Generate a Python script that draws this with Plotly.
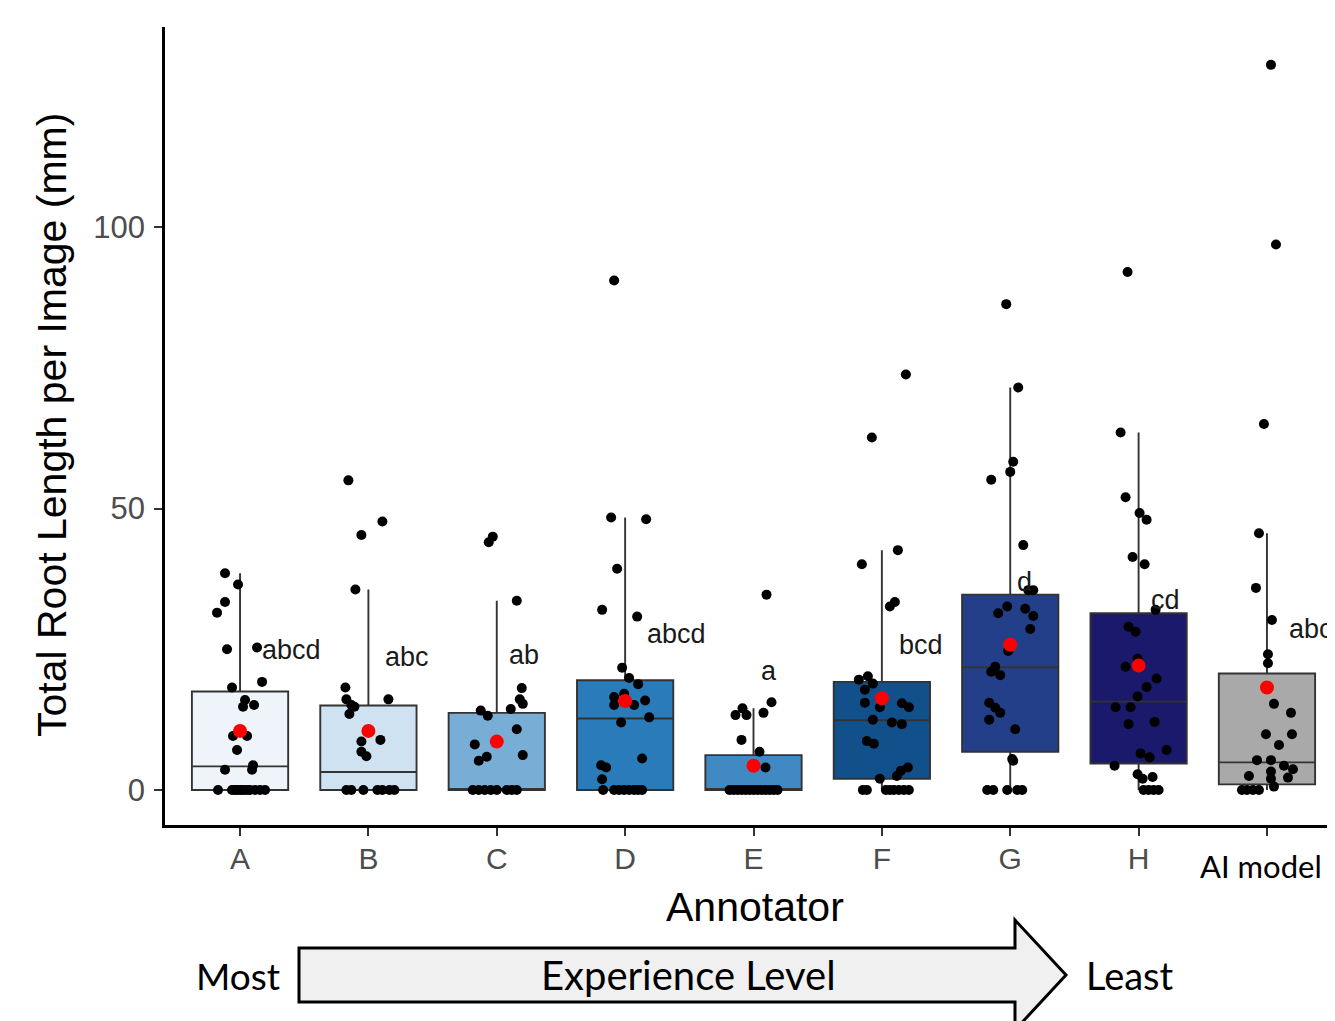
import plotly.graph_objects as go

# ---------------- data ----------------
categories = ["A", "B", "C", "D", "E", "F", "G", "H", "AI model"]
tick_labels = ["A", "B", "C", "D", "E", "F", "G", "H", ""]

vals_A = [38.5, 36.5, 33.4, 31.5, 25.0, 25.3, 19.2, 18.2, 16.0, 14.8, 15.1, 9.6, 9.6, 7.1, 4.4, 3.6, 3.6,
          0, 0, 0, 0, 0, 0, 0, 0, 0, 0, 0, 0]
jit_A = [-15, -2, -15, -23, -13, 17, 22, -8, 5, 3, 14, -7, 7, -3, 13, -15, 12,
         -22, -8, -3, 2, 8, 15, 20, 25, -5, 0, 5, 10]

vals_B = [55.0, 45.3, 47.7, 35.6, 18.2, 16.1, 16.1, 15.1, 14.8, 13.5, 8.6, 8.9, 6.8, 6.0,
          0, 0, 0, 0, 0, 0, 0]
jit_B = [-20, -7, 14, -13, -23, 20, -22, -17, -14, -19, -7, 12, -7, -2,
         -22, -17, -5, 9, 14, 21, 26]

vals_C = [45.0, 44.0, 33.6, 18.1, 16.1, 15.3, 14.1, 13.2, 14.4, 10.8, 8.1, 6.2, 5.9, 5.2,
          0, 0, 0, 0, 0, 0, 0, 0]
jit_C = [-4, -8, 20, 25, 23, 26, -16, -9, 14, 20, -22, 26, -10, -18,
         -24, -18, -12, -6, 0, 10, 15, 20]

vals_D = [90.5, 48.4, 48.1, 39.3, 32.0, 30.8, 21.7, 19.9, 18.8, 16.5, 15.1, 17.1, 15.1, 15.9, 12.0, 12.9,
          5.6, 4.4, 4.0, 1.9, 0, 0, 0, 0, 0, 0, 0, 0]
jit_D = [-11, -14, 21, -8, -23, 12, -3, 4, 13, -11, -11, -1, 9, 20, -4, 24,
         17, -24, -19, -23, -22, -11, -6, -1, 4, 9, 13, 17]

vals_E = [34.7, 15.6, 14.5, 13.3, 13.3, 13.7, 8.9, 6.8, 4.0,
          0, 0, 0, 0, 0, 0, 0, 0, 0, 0, 0, 0, 0]
jit_E = [13, 18, -11, -18, -7, 10, -12, 6, 12,
         -24, -20, -16, -12, -8, -4, 0, 4, 8, 12, 16, 20, 24]

vals_F = [73.8, 62.6, 42.6, 40.1, 33.4, 32.6, 19.6, 20.2, 18.9, 17.8, 14.7, 15.5, 15.4, 14.7, 12.5, 12.0,
          11.7, 8.7, 8.2, 4.0, 3.4, 2.0, 2.5, 0, 0, 0, 0, 0, 0, 0, 0]
jit_F = [24, -10, 16, -20, 13, 8, -23, -14, -9, -17, -2, -17, 20, 27, -9, 10,
         20, -15, -8, 26, 19, -2, 15, -19, -15, 4, 8, 12, 17, 22, 27]

vals_G = [86.3, 71.5, 58.3, 56.5, 55.1, 43.5, 35.5, 35.5, 32.6, 31.4, 32.2, 30.9, 28.6, 24.7, 21.9, 21.0,
          20.4, 15.5, 14.6, 13.7, 12.5, 10.8, 5.5, 5.2, 0, 0, 0, 0, 0]
jit_G = [-4, 8, 3, 0, -19, 13, 18, 23, -3, -12, 15, 23, 20, -2, -15, -19,
         -10, -21, -15, -10, -21, 5, 2, 3, -23, -17, -3, 7, 12]

vals_H = [92.0, 63.5, 52.0, 49.2, 48.0, 41.4, 40.1, 32.0, 29.0, 28.1, 21.9, 23.3, 19.8, 18.3, 16.6, 14.7,
          14.7, 12.1, 11.7, 7.1, 6.5, 5.8, 4.3, 2.8, 2.0, 2.3, 0, 0, 0, 0]
jit_H = [-11, -18, -13, 1, 8, -6, 6, 17, -10, -3, -13, -1, 18, 8, -1, -23,
         -8, 16, -10, 28, 2, 11, -24, -1, 4, 14, 5, 10, 15, 20]

vals_AI = [128.8, 96.9, 65.0, 45.6, 35.9, 30.2, 24.1, 22.5, 15.3, 13.7, 9.9, 9.9, 8.0, 5.3, 5.3, 4.3,
           3.7, 2.5, 3.3, 2.0, 2.2, 0.6, 0, 0, 0, 0]
jit_AI = [4, 9, -3, -8, -11, 5, 1, 1, 7, 24, -1, 25, 12, -10, 4, 17,
          26, -18, 4, 4, 21, 7, -25, -20, -14, -8]

all_vals = [vals_A, vals_B, vals_C, vals_D, vals_E, vals_F, vals_G, vals_H, vals_AI]
all_jit = [jit_A, jit_B, jit_C, jit_D, jit_E, jit_F, jit_G, jit_H, jit_AI]

# box statistics
q1 = [0, 0, 0, 0, 0, 2.0, 6.8, 4.7, 1.0]
medians = [4.2, 3.2, 0, 12.7, 0, 12.4, 21.8, 15.7, 4.9]
q3 = [17.5, 15.0, 13.7, 19.5, 6.2, 19.2, 34.7, 31.4, 20.7]
lower_whisker = [0, 0, 0, 0, 0, 0, 0, 0, 0]
upper_whisker = [38.5, 35.6, 33.6, 48.4, 14.5, 42.6, 71.5, 63.5, 45.6]
means = [10.5, 10.5, 8.6, 15.8, 4.3, 16.3, 25.8, 22.1, 18.2]

letters = ["abcd", "abc", "ab", "abcd", "a", "bcd", "d", "cd", "abcd"]
letter_y = [24.9, 23.6, 24.0, 27.7, 21.1, 25.8, 36.9, 33.7, 28.6]

box_colors = ["#EEF4FA", "#CFE2F1", "#78AED6", "#2A7BBA", "#4189C3",
              "#12508B", "#243F8A", "#1B196B", "#A9A9A9"]

# ---------------- layout geometry ----------------
W, H = 1335, 1021
OFF = 8  # page body margin of the exported html
PLOT_L, PLOT_T, PLOT_R, PLOT_B = 165, 27, 1343, 825  # plot area in page pixels
ML = PLOT_L - OFF
MT = PLOT_T - OFF
MR = W - (PLOT_R - OFF)
MB = H - (PLOT_B - OFF)
PW = PLOT_R - PLOT_L
PH = PLOT_B - PLOT_T
CAT_PX = 128.3  # pixel distance between categories


def px_x(px):
    return (px - PLOT_L) / PW


def px_y(py):
    return (PLOT_B - py) / PH


AX_FONT = "Liberation Sans, Arial, sans-serif"
CAL_FONT = "Lato, Carlito, Calibri, sans-serif"

fig = go.Figure()

for i, cat in enumerate(categories):
    fig.add_trace(go.Box(
        x=[i], q1=[q1[i]], median=[medians[i]], q3=[q3[i]],
        lowerfence=[lower_whisker[i]], upperfence=[upper_whisker[i]],
        width=0.75, whiskerwidth=0, boxpoints=False,
        fillcolor=box_colors[i],
        line=dict(color="#333333", width=1.9),
        name=cat, showlegend=False, hoverinfo="skip",
    ))

for i, cat in enumerate(categories):
    xs = [i + j / CAT_PX for j in all_jit[i]]
    fig.add_trace(go.Scatter(
        x=xs, y=all_vals[i], mode="markers",
        marker=dict(color="black", size=10),
        showlegend=False, hoverinfo="skip",
    ))

fig.add_trace(go.Scatter(
    x=list(range(len(categories))), y=means, mode="markers",
    marker=dict(color="#FF0000", size=14),
    showlegend=False, hoverinfo="skip",
))

annotations = []
for i, lab in enumerate(letters):
    annotations.append(dict(
        x=i, y=letter_y[i], xref="x", yref="y", text=lab, showarrow=False,
        xanchor="left", yanchor="middle", xshift=5 * len(lab),
        font=dict(family=AX_FONT, size=27, color="#1a1a1a"),
    ))

# axis titles & extra labels
annotations += [
    dict(x=px_x(52), y=px_y(425), xref="paper", yref="paper",
         text="Total Root Length per Image (mm)", textangle=-90, showarrow=False,
         xanchor="center", yanchor="middle",
         font=dict(family=AX_FONT, size=41, color="black")),
    dict(x=px_x(755), y=px_y(907), xref="paper", yref="paper",
         text="Annotator", showarrow=False, xanchor="center", yanchor="middle",
         font=dict(family=AX_FONT, size=41, color="black")),
    dict(x=px_x(1261), y=px_y(866), xref="paper", yref="paper",
         text="AI model", showarrow=False, xanchor="center", yanchor="middle",
         font=dict(family=CAL_FONT, size=31, color="black")),
    dict(x=px_x(238), y=px_y(975), xref="paper", yref="paper",
         text="Most", showarrow=False, xanchor="center", yanchor="middle",
         font=dict(family=CAL_FONT, size=37, color="black")),
    dict(x=px_x(688), y=px_y(975), xref="paper", yref="paper",
         text="Experience Level", showarrow=False, xanchor="center", yanchor="middle",
         font=dict(family=CAL_FONT, size=40, color="black")),
    dict(x=px_x(1130), y=px_y(975), xref="paper", yref="paper",
         text="Least", showarrow=False, xanchor="center", yanchor="middle",
         font=dict(family=CAL_FONT, size=38, color="black")),
]

# block arrow (decoration)
arrow_pts = [(299, 948), (1015, 948), (1015, 920), (1066, 975),
             (1015, 1030), (1015, 1002), (299, 1002)]
path = "M " + " L ".join(f"{px_x(a):.5f},{px_y(b):.5f}" for a, b in arrow_pts) + " Z"
shapes = [dict(type="path", xref="paper", yref="paper", path=path,
               fillcolor="#F0F0F0", line=dict(color="black", width=3), layer="above")]

fig.update_layout(
    width=W, height=H,
    margin=dict(l=ML, r=MR, t=MT, b=MB, pad=0),
    paper_bgcolor="white", plot_bgcolor="white",
    showlegend=False,
    annotations=annotations,
    shapes=shapes,
    xaxis=dict(
        range=[-(240 - PLOT_L) / CAT_PX, 8 + (PLOT_R - 1267) / CAT_PX],
        tickmode="array", tickvals=list(range(len(categories))), ticktext=tick_labels,
        showline=True, linecolor="black", linewidth=2.5,
        ticks="outside", ticklen=8, tickwidth=2, tickcolor="#333333",
        tickfont=dict(family=AX_FONT, size=30, color="#4d4d4d"),
        showgrid=False, zeroline=False, ticklabelstandoff=-3,
    ),
    yaxis=dict(
        range=[-(PLOT_B - 790) / 5.63, (790 - PLOT_T) / 5.63],
        tickmode="array", tickvals=[0, 50, 100], ticktext=["0", "50", "100"],
        showline=True, linecolor="black", linewidth=2.5,
        ticks="outside", ticklen=8, tickwidth=2, tickcolor="#333333",
        tickfont=dict(family=AX_FONT, size=31, color="#4d4d4d"),
        showgrid=False, zeroline=False, ticklabelstandoff=3,
    ),
)

fig.write_html("out.html")
